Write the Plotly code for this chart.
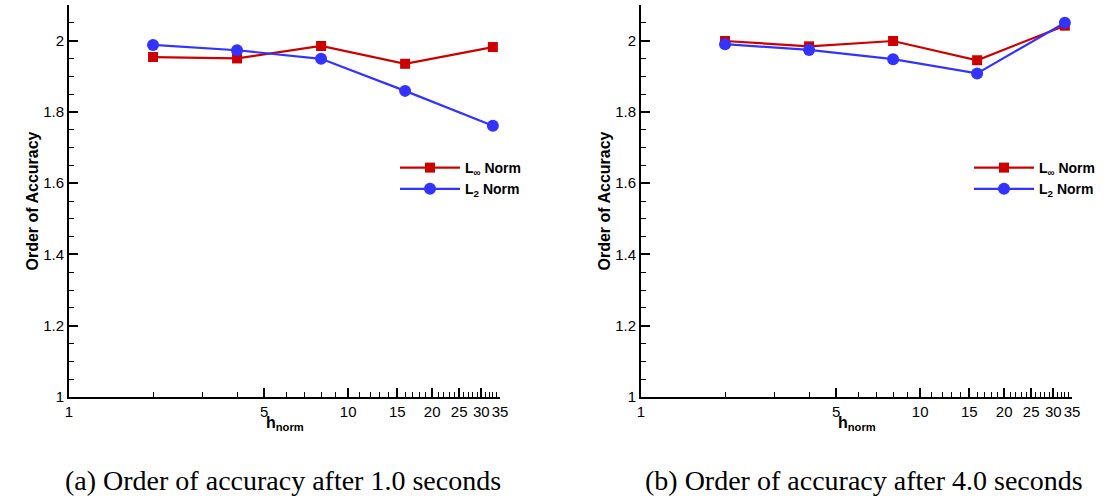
import plotly.graph_objects as go

h_norm = [2, 4, 8, 16, 33]

# (a) after 1.0 seconds
linf_a = [1.954, 1.950, 1.985, 1.935, 1.982]
l2_a = [1.988, 1.973, 1.949, 1.859, 1.761]

# (b) after 4.0 seconds
linf_b = [1.999, 1.984, 1.999, 1.945, 2.042]
l2_b = [1.990, 1.974, 1.948, 1.908, 2.050]

x_major = [1, 5, 10, 15, 20, 25, 30, 35]
x_major_text = ["1", "5", "10", "15", "20", "25", "30", "35"]
x_minor = [2, 3, 4, 6, 7, 8, 9, 11, 12, 13, 14, 16, 17, 18, 19,
           21, 22, 23, 24, 26, 27, 28, 29, 31, 32, 33, 34]

captions = ["(a) Order of accuracy after 1.0 seconds",
            "(b) Order of accuracy after 4.0 seconds"]

RED = "#CC0000"
BLUE = "#3333FF"
W, H = 1109, 501

fig = go.Figure()

panels = [(linf_a, l2_a, "x", "y", "legend"), (linf_b, l2_b, "x2", "y2", "legend2")]
for linf, l2, xa, ya, lg in panels:
    fig.add_trace(go.Scatter(
        x=h_norm, y=linf, mode="lines+markers", name="L<sub>∞</sub> Norm",
        line=dict(color=RED, width=2.2),
        marker=dict(symbol="square", size=10, color=RED),
        xaxis=xa, yaxis=ya, legend=lg))
    fig.add_trace(go.Scatter(
        x=h_norm, y=l2, mode="lines+markers", name="L<sub>2</sub> Norm",
        line=dict(color=BLUE, width=2.2),
        marker=dict(symbol="circle", size=12, color=BLUE),
        xaxis=xa, yaxis=ya, legend=lg))

tickfont = dict(family="Liberation Sans, Arial, sans-serif", size=15, color="black")
titlefont = dict(family="Liberation Sans, Arial, sans-serif", size=16, color="black",
                 weight="bold")

ydom = [(H - 397) / H, (H - 5) / H]
xdoms = [[69 / W, 500 / W], [641 / W, 1072 / W]]


def xaxis_cfg(dom, anchor):
    return dict(
        type="log", domain=dom, anchor=anchor, automargin=False,
        range=[0, 1.5441],
        showline=True, linecolor="black", linewidth=2,
        ticks="inside", ticklen=9, tickwidth=1.5, tickcolor="black",
        tickvals=x_major, ticktext=x_major_text, tickfont=tickfont,
        tickangle=0,
        showgrid=False, zeroline=False,
        minor=dict(tickvals=x_minor, ticks="inside", ticklen=5,
                   tickwidth=1.2, tickcolor="black", showgrid=False),
    )


def yaxis_cfg(anchor):
    return dict(
        domain=ydom, anchor=anchor, automargin=False,
        range=[1, 2.1],
        showline=True, linecolor="black", linewidth=2,
        ticks="inside", ticklen=9, tickwidth=1.5, tickcolor="black",
        tick0=1, dtick=0.2, tickfont=tickfont,
        showgrid=False, zeroline=False,
        minor=dict(tick0=1, dtick=0.05, ticks="inside", ticklen=5,
                   tickwidth=1.2, tickcolor="black", showgrid=False),
        title=dict(text="<b>Order of Accuracy</b>", font=titlefont, standoff=1),
    )


legend_common = dict(
    font=dict(family="Liberation Sans, Arial, sans-serif", size=14, color="black",
              weight="bold"),
    bgcolor="rgba(0,0,0,0)", borderwidth=0,
    xanchor="left", yanchor="top", tracegroupgap=0, itemwidth=60,
)

fig.update_layout(
    width=W, height=H,
    margin=dict(l=0, r=0, t=0, b=0, autoexpand=False),
    paper_bgcolor="white", plot_bgcolor="white",
    xaxis=xaxis_cfg(xdoms[0], "y"),
    yaxis=yaxis_cfg("x"),
    xaxis2=xaxis_cfg(xdoms[1], "y2"),
    yaxis2=yaxis_cfg("x2"),
    legend=dict(x=395 / W, y=1 - 152 / H, **legend_common),
    legend2=dict(x=969 / W, y=1 - 152 / H, **legend_common),
    showlegend=True,
)

# x-axis titles
for dom in xdoms:
    fig.add_annotation(
        text="<b>h<sub>norm</sub></b>", x=(dom[0] + dom[1]) / 2, y=1 - 423 / H,
        xref="paper", yref="paper", xanchor="center", yanchor="middle",
        showarrow=False, font=titlefont)

for i, cap in enumerate(captions):
    cx = [283 / W, 864 / W][i]
    fig.add_annotation(
        text=cap, x=cx, y=1 - 480 / H, xref="paper", yref="paper",
        xanchor="center", yanchor="middle", showarrow=False,
        font=dict(family="Liberation Serif, DejaVu Serif, serif", size=28, color="black"))

fig.write_html("out.html", config={"displayModeBar": False},
               post_script="document.body.style.margin='0px';")
